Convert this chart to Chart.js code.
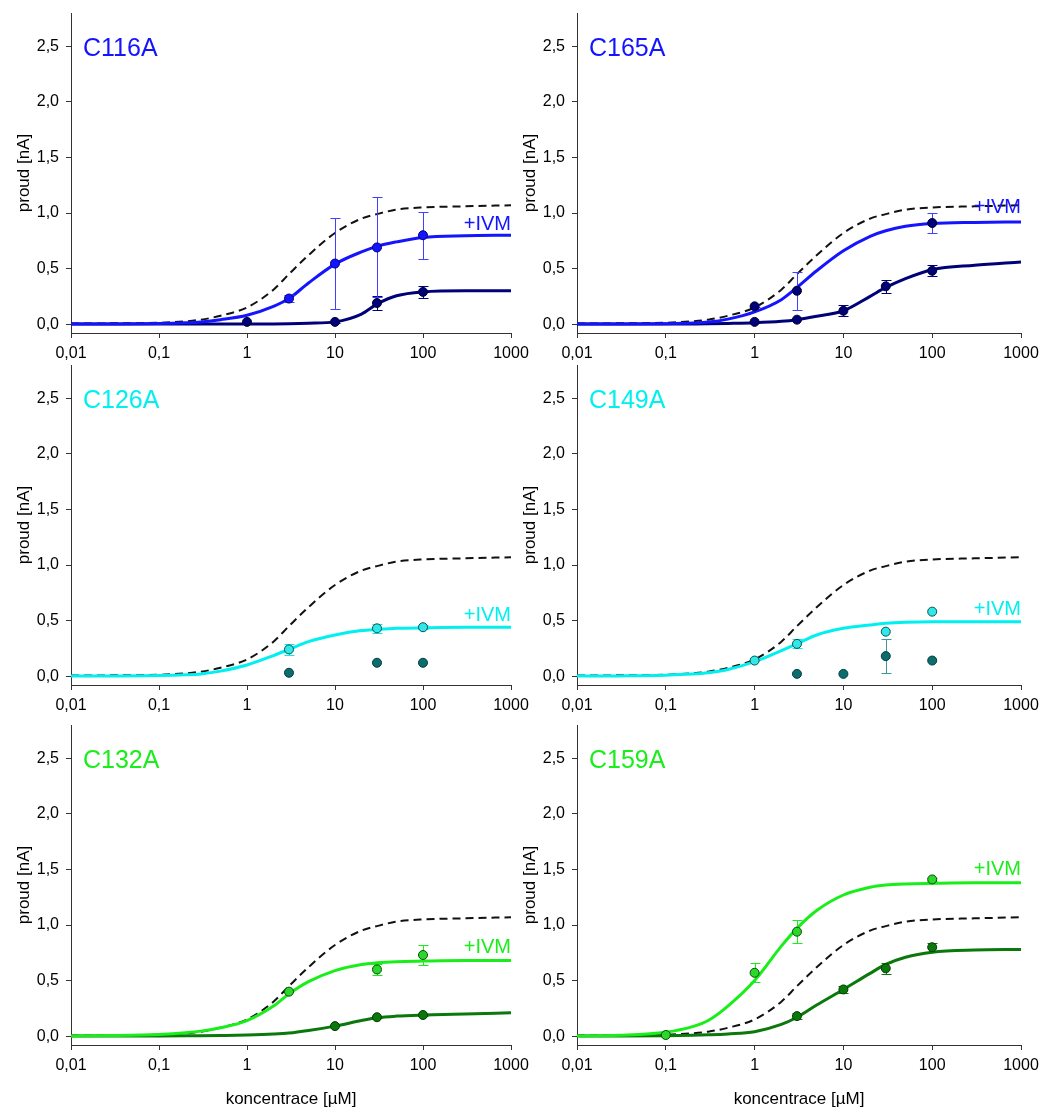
<!DOCTYPE html>
<html>
<head>
<meta charset="utf-8">
<script src="https://cdn.jsdelivr.net/npm/chart.js@4.4.0/dist/chart.umd.min.js"></script>
<style>
html, body { margin: 0; padding: 0; background: #fff; }
#wrap { position: relative; width: 1045px; height: 1110px; overflow: hidden; }
canvas { position: absolute; }
</style>
</head>
<body>
<div id="wrap">
<canvas id="c116a" width="530" height="360" style="left:0;top:0"></canvas>
<canvas id="c165a" width="530" height="360" style="left:515px;top:0"></canvas>
<canvas id="c126a" width="530" height="360" style="left:0;top:352px"></canvas>
<canvas id="c149a" width="530" height="360" style="left:515px;top:352px"></canvas>
<canvas id="c132a" width="530" height="398" style="left:0;top:712px"></canvas>
<canvas id="c159a" width="530" height="398" style="left:515px;top:712px"></canvas>
</div>
<script>
const decades = [0.01, 0.1, 1, 10, 100, 1000];
const decadeLabels = ['0,01', '0,1', '1', '10', '100', '1000'];
const currentTicks = [0, 0.5, 1, 1.5, 2, 2.5];

const fitX = [0.01, 0.03, 0.1, 0.2, 0.3, 0.5, 1, 2, 3, 5, 10, 20, 30, 50, 100, 300, 1000];

// dashed wild type curve, same in every panel
const wtFit = [0.005, 0.007, 0.012, 0.025, 0.04, 0.075, 0.15, 0.31, 0.45, 0.62, 0.82, 0.95, 0.99, 1.03, 1.05, 1.06, 1.07];

// C116A
const c116aIvmFit = [0, 0.001, 0.005, 0.012, 0.02, 0.04, 0.08, 0.16, 0.23, 0.37, 0.54, 0.65, 0.70, 0.74, 0.78, 0.795, 0.80];
const c116aFit = [0, 0, 0, 0, 0, 0, 0.001, 0.002, 0.004, 0.008, 0.02, 0.09, 0.18, 0.255, 0.29, 0.30, 0.30];
const c116aIvmX = [3, 10, 30, 100];
const c116aIvmY = [0.23, 0.545, 0.69, 0.80];
const c116aIvmErr = [0.03, 0.41, 0.45, 0.21];
const c116aX = [1, 10, 30, 100];
const c116aY = [0.02, 0.02, 0.19, 0.29];
const c116aErr = [0, 0.01, 0.06, 0.055];

// C165A
const c165aIvmFit = [0, 0.001, 0.004, 0.01, 0.018, 0.045, 0.11, 0.22, 0.33, 0.48, 0.66, 0.79, 0.84, 0.88, 0.905, 0.915, 0.92];
const c165aFit = [0, 0, 0.001, 0.002, 0.003, 0.006, 0.012, 0.025, 0.04, 0.07, 0.12, 0.25, 0.33, 0.41, 0.49, 0.53, 0.56];
const c165aIvmX = [1, 3, 100];
const c165aIvmY = [0.16, 0.30, 0.91];
const c165aIvmErr = [0.01, 0.17, 0.09];
const c165aX = [1, 3, 10, 30, 100];
const c165aY = [0.02, 0.04, 0.12, 0.34, 0.48];
const c165aErr = [0, 0, 0.05, 0.06, 0.05];

// C126A
const c126aIvmFit = [0, 0.001, 0.005, 0.012, 0.02, 0.045, 0.10, 0.185, 0.24, 0.31, 0.37, 0.41, 0.42, 0.43, 0.435, 0.44, 0.44];
const c126aIvmX = [3, 30, 100];
const c126aIvmY = [0.24, 0.43, 0.44];
const c126aIvmErr = [0.05, 0.04, 0.02];
const c126aX = [3, 30, 100];
const c126aY = [0.03, 0.12, 0.12];
const c126aErr = [0, 0, 0];

// C149A
const c149aIvmFit = [0, 0.002, 0.008, 0.018, 0.03, 0.06, 0.13, 0.23, 0.29, 0.37, 0.43, 0.46, 0.475, 0.485, 0.49, 0.49, 0.49];
const c149aIvmX = [1, 3, 30, 100];
const c149aIvmY = [0.14, 0.29, 0.40, 0.58];
const c149aIvmErr = [0, 0.04, 0, 0];
const c149aX = [3, 10, 30, 100];
const c149aY = [0.02, 0.02, 0.18, 0.14];
const c149aErr = [0, 0, 0.155, 0];

// C132A
const c132aIvmFit = [0.002, 0.005, 0.015, 0.03, 0.045, 0.075, 0.14, 0.27, 0.38, 0.49, 0.59, 0.645, 0.66, 0.67, 0.675, 0.68, 0.68];
const c132aFit = [0, 0.001, 0.002, 0.003, 0.004, 0.006, 0.01, 0.018, 0.027, 0.05, 0.09, 0.14, 0.165, 0.18, 0.19, 0.20, 0.21];
const c132aIvmX = [3, 30, 100];
const c132aIvmY = [0.40, 0.60, 0.73];
const c132aIvmErr = [0, 0.05, 0.09];
const c132aX = [10, 30, 100];
const c132aY = [0.09, 0.17, 0.19];
const c132aErr = [0, 0.01, 0.01];

// C159A
const c159aIvmFit = [0.001, 0.008, 0.035, 0.085, 0.14, 0.27, 0.50, 0.81, 0.97, 1.13, 1.27, 1.34, 1.36, 1.37, 1.375, 1.38, 1.38];
const c159aFit = [0, 0.001, 0.004, 0.008, 0.012, 0.02, 0.04, 0.105, 0.17, 0.28, 0.42, 0.565, 0.645, 0.71, 0.755, 0.775, 0.78];
const c159aIvmX = [0.1, 1, 3, 100];
const c159aIvmY = [0.01, 0.57, 0.94, 1.41];
const c159aIvmErr = [0, 0.085, 0.105, 0.01];
const c159aX = [3, 10, 30, 100];
const c159aY = [0.18, 0.42, 0.61, 0.80];
const c159aErr = [0.03, 0.03, 0.05, 0.04];

const FONT = '"Liberation Sans", Arial, sans-serif';
const BLUE = '#1414ff', NAVY = '#000078';
const CYAN = '#00f0f0', TEAL = '#0a6e6e';
const GREEN = '#1aee1a', DKGREEN = '#0a780a';

const panels = [
  { id: 'c116a', name: 'C116A', col: 0, row: 0, color: BLUE, ivmY: 0.845,
    points: [
      { x: c116aIvmX, y: c116aIvmY, err: c116aIvmErr, fill: BLUE, edge: NAVY, bar: '#4040ff' },
      { x: c116aX, y: c116aY, err: c116aErr, fill: NAVY, edge: '#000030', bar: NAVY }],
    fits: [{ y: c116aIvmFit, color: BLUE }, { y: c116aFit, color: NAVY }] },
  { id: 'c165a', name: 'C165A', col: 1, row: 0, color: BLUE, ivmY: 1.0,
    points: [
      { x: c165aIvmX, y: c165aIvmY, err: c165aIvmErr, fill: NAVY, edge: '#000030', bar: '#4040ff' },
      { x: c165aX, y: c165aY, err: c165aErr, fill: NAVY, edge: '#000030', bar: NAVY }],
    fits: [{ y: c165aIvmFit, color: BLUE }, { y: c165aFit, color: NAVY }] },
  { id: 'c126a', name: 'C126A', col: 0, row: 1, color: CYAN, ivmY: 0.495,
    points: [
      { x: c126aIvmX, y: c126aIvmY, err: c126aIvmErr, fill: '#30e8e8', edge: '#0a5050', bar: CYAN },
      { x: c126aX, y: c126aY, err: c126aErr, fill: TEAL, edge: '#053a3a', bar: TEAL }],
    fits: [{ y: c126aIvmFit, color: CYAN }] },
  { id: 'c149a', name: 'C149A', col: 1, row: 1, color: CYAN, ivmY: 0.55,
    points: [
      { x: c149aIvmX, y: c149aIvmY, err: c149aIvmErr, fill: '#30e8e8', edge: '#0a5050', bar: CYAN },
      { x: c149aX, y: c149aY, err: c149aErr, fill: TEAL, edge: '#053a3a', bar: '#3a9a9a' }],
    fits: [{ y: c149aIvmFit, color: CYAN }] },
  { id: 'c132a', name: 'C132A', col: 0, row: 2, color: GREEN, ivmY: 0.75,
    points: [
      { x: c132aIvmX, y: c132aIvmY, err: c132aIvmErr, fill: '#2ad82a', edge: '#0a4a0a', bar: GREEN },
      { x: c132aX, y: c132aY, err: c132aErr, fill: DKGREEN, edge: '#053a05', bar: DKGREEN }],
    fits: [{ y: c132aIvmFit, color: GREEN }, { y: c132aFit, color: DKGREEN }] },
  { id: 'c159a', name: 'C159A', col: 1, row: 2, color: GREEN, ivmY: 1.45,
    points: [
      { x: c159aIvmX, y: c159aIvmY, err: c159aIvmErr, fill: '#2ad82a', edge: '#0a4a0a', bar: GREEN },
      { x: c159aX, y: c159aY, err: c159aErr, fill: DKGREEN, edge: '#053a05', bar: DKGREEN }],
    fits: [{ y: c159aIvmFit, color: GREEN }, { y: c159aFit, color: DKGREEN }] }
];

function zip(xs, ys) {
  return xs.map((x, i) => ({ x: x, y: ys[i] }));
}

const errorBars = {
  id: 'errorBars',
  beforeDatasetDraw(chart, args) {
    const ds = chart.data.datasets[args.index];
    if (!ds.errors) return;
    const { ctx, scales: { x, y } } = chart;
    ctx.save();
    ctx.strokeStyle = ds.barColor;
    ctx.lineWidth = 1;
    ds.data.forEach((p, i) => {
      const e = ds.errors[i];
      if (!e) return;
      const px = Math.round(x.getPixelForValue(p.x)) + 0.5;
      const top = Math.round(y.getPixelForValue(p.y + e)) + 0.5;
      const bot = Math.round(y.getPixelForValue(p.y - e)) + 0.5;
      ctx.beginPath();
      ctx.moveTo(px, top); ctx.lineTo(px, bot);
      ctx.moveTo(px - 5, top); ctx.lineTo(px + 5, top);
      ctx.moveTo(px - 5, bot); ctx.lineTo(px + 5, bot);
      ctx.stroke();
    });
    ctx.restore();
  }
};

const panelLabels = {
  id: 'panelLabels',
  afterDatasetsDraw(chart, args, opts) {
    const { ctx, chartArea, scales: { y } } = chart;
    ctx.save();
    ctx.fillStyle = opts.color;
    ctx.textBaseline = 'alphabetic';
    ctx.font = '25px ' + FONT;
    ctx.textAlign = 'left';
    ctx.fillText(opts.name, chartArea.left + 12, y.getPixelForValue(2.41));
    ctx.font = '20px ' + FONT;
    ctx.textAlign = 'right';
    ctx.fillText('+IVM', chartArea.right, y.getPixelForValue(opts.ivmY));
    ctx.restore();
  }
};

function create(p) {
  const left = p.col === 0;
  const bottomRow = p.row === 2;
  const datasets = [];
  p.points.forEach(s => {
    datasets.push({
      data: zip(s.x, s.y),
      showLine: false,
      pointRadius: 4.5,
      pointBackgroundColor: s.fill,
      pointBorderColor: s.edge,
      pointBorderWidth: 1,
      errors: s.err,
      barColor: s.bar
    });
  });
  p.fits.forEach(f => {
    datasets.push({
      data: zip(fitX, f.y),
      showLine: true,
      pointRadius: 0,
      borderColor: f.color,
      borderWidth: 3,
      cubicInterpolationMode: 'monotone'
    });
  });
  datasets.push({
    data: zip(fitX, wtFit),
    showLine: true,
    pointRadius: 0,
    borderColor: '#111',
    borderWidth: 2,
    borderDash: [8, 5],
    cubicInterpolationMode: 'monotone'
  });

  return new Chart(document.getElementById(p.id), {
    type: 'scatter',
    data: { datasets: datasets },
    plugins: [errorBars, panelLabels],
    options: {
      responsive: false,
      animation: false,
      devicePixelRatio: 1,
      layout: { padding: { left: 0, right: left ? 19 : 24, top: 13, bottom: 0 } },
      plugins: {
        legend: { display: false },
        tooltip: { enabled: false },
        panelLabels: { name: p.name, color: p.color, ivmY: p.ivmY }
      },
      scales: {
        x: {
          type: 'logarithmic',
          min: 0.01,
          max: 1000,
          afterBuildTicks: s => { s.ticks = decades.map(v => ({ value: v })); },
          afterFit: s => { s.height = bottomRow ? 65 : 27; s.paddingLeft = 0; s.paddingRight = 0; },
          ticks: {
            callback: (v, i) => decadeLabels[i],
            autoSkip: false,
            maxRotation: 0,
            padding: 6,
            color: '#000',
            font: { family: FONT, size: 16 }
          },
          grid: { drawOnChartArea: false, drawTicks: true, tickLength: 5, color: '#333' },
          border: { color: '#333', width: 1 },
          title: {
            display: bottomRow,
            text: 'koncentrace [µM]',
            color: '#000',
            font: { family: FONT, size: 17 },
            padding: { top: 0, bottom: 0 }
          }
        },
        y: {
          min: -0.08,
          max: 2.8,
          afterBuildTicks: s => { s.ticks = currentTicks.map(v => ({ value: v })); },
          afterFit: s => { s.width = left ? 71 : 62; s.paddingTop = 0; s.paddingBottom = 0; },
          ticks: {
            callback: v => v.toFixed(1).replace('.', ','),
            padding: 7,
            color: '#000',
            font: { family: FONT, size: 16 }
          },
          grid: { drawOnChartArea: false, drawTicks: true, tickLength: 5, color: '#333' },
          border: { color: '#333', width: 1 },
          title: {
            display: true,
            text: 'proud [nA]',
            color: '#000',
            font: { family: FONT, size: 17 },
            padding: { top: left ? 14 : 5, bottom: 0 }
          }
        }
      }
    }
  });
}

panels.forEach(create);
</script>
</body>
</html>
